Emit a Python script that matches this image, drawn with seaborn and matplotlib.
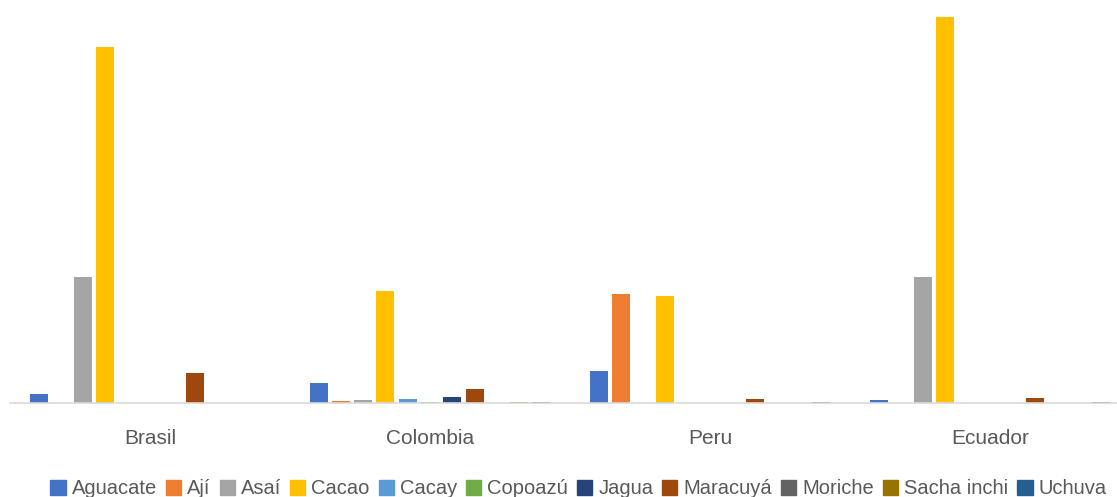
import pandas as pd
import seaborn as sns
import matplotlib.pyplot as plt
from matplotlib.patches import Patch

countries = ["Brasil", "Colombia", "Peru", "Ecuador"]
products = ["Aguacate", "Ají", "Asaí", "Cacao", "Cacay", "Copoazú",
            "Jagua", "Maracuyá", "Moriche", "Sacha inchi", "Uchuva"]
colors = ["#4472C4", "#ED7D31", "#A5A5A5", "#FFC000", "#5B9BD5", "#70AD47",
          "#264478", "#9E480E", "#636363", "#997300", "#255E91"]

aguacate = [9, 20, 32, 3]
aji = [0, 2, 109, 0]
asai = [126, 3, 0, 126]
cacao = [356, 112, 107, 386]
cacay = [0, 4, 0, 0]
copoazu = [0, 1, 0, 0]
jagua = [0, 6, 0, 0]
maracuya = [30, 13.5, 3.5, 4.5]
moriche = [0, 0, 0, 0]
sacha_inchi = [0, 0.6, 0, 0]
uchuva = [0, 0.6, 0.6, 0.6]

series = [aguacate, aji, asai, cacao, cacay, copoazu,
          jagua, maracuya, moriche, sacha_inchi, uchuva]

rows = []
for prod, vals in zip(products, series):
    for c, v in zip(countries, vals):
        rows.append({"pais": c, "producto": prod, "valor": v})
df = pd.DataFrame(rows)

sns.set_style("white")
plt.rcParams["font.family"] = ["Liberation Sans", "DejaVu Sans"]

fig = plt.figure(figsize=(11.17, 4.97), dpi=100)
W, H = 1117, 497
ax = fig.add_axes([10 / W, (H - 402.7) / H, 1120 / W, 402.7 / H])

sns.barplot(data=df, x="pais", y="valor", hue="producto", hue_order=products,
            palette=colors, saturation=1, width=0.875, gap=0.19, linewidth=0,
            ax=ax, legend=False)

ax.set_ylim(0, 402.7)
ax.set_xlim(-0.5, 3.5)
ax.set_xlabel("")
ax.set_ylabel("")
ax.set_yticks([])
for s in ["top", "right", "left"]:
    ax.spines[s].set_visible(False)
ax.spines["bottom"].set_color("#D9D9D9")
ax.spines["bottom"].set_linewidth(1.2)
ax.tick_params(axis="x", length=0, pad=19, labelsize=15, labelcolor="#595959")

handles = [Patch(color=c, label=p) for p, c in zip(products, colors)]
fig.legend(handles=handles, loc="center", bbox_to_anchor=(0.518, 8 / H),
           ncol=11, frameon=False, fontsize=14.5, handlelength=0.75,
           handleheight=0.75, handletextpad=0.3, columnspacing=0.45,
           labelcolor="#595959")

fig.savefig("out.png", dpi=100)
